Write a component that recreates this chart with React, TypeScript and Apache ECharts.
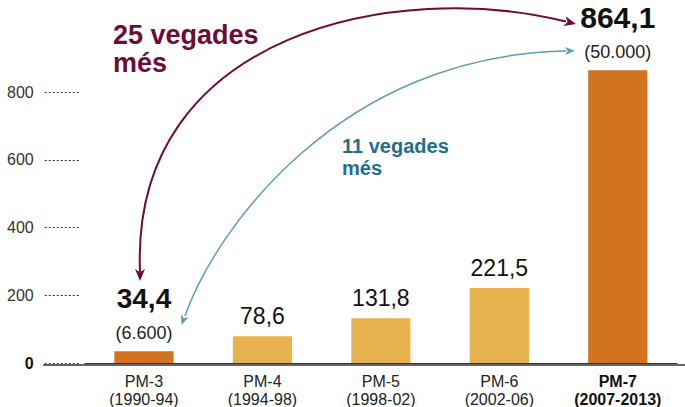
import React, { useEffect, useRef } from 'react';
import * as echarts from 'echarts';

const categories = ['PM-3', 'PM-4', 'PM-5', 'PM-6', 'PM-7'];
const periods = ['(1990-94)', '(1994-98)', '(1998-02)', '(2002-06)', '(2007-2013)'];
const values = [34.4, 78.6, 131.8, 221.5, 864.1];
const valueLabels = ['34,4', '78,6', '131,8', '221,5', '864,1'];
const subLabels = ['(6.600)', '', '', '', '(50.000)'];
const highlighted = [true, false, false, false, true];
const yTickValues = [0, 200, 400, 600, 800];
const annotationMain = ['25 vegades', 'més'];
const annotationSecond = ['11 vegades', 'més'];

const FONT = '"Liberation Sans", Arial, Helvetica, sans-serif';
const DARK = '#D2731F';
const LIGHT = '#E8B24F';
const MAROON = '#6B0D37';
const TEAL_TEXT = '#1F6E8C';
const TEAL_LINE = '#5C9CB6';

const W = 685;
const H = 407;
const GRID = { left: 84.75, right: 8, top: 92, bottom: 42 };

function arrowHead(tipX: number, tipY: number, dx: number, dy: number, len: number, half: number, color: string) {
  const m = Math.hypot(dx, dy);
  const ux = dx / m;
  const uy = dy / m;
  const nx = -uy;
  const ny = ux;
  const bx = tipX - ux * len;
  const by = tipY - uy * len;
  const notchX = tipX - ux * len * 0.72;
  const notchY = tipY - uy * len * 0.72;
  return {
    type: 'polygon',
    silent: true,
    shape: {
      points: [
        [tipX, tipY],
        [bx + nx * half, by + ny * half],
        [notchX, notchY],
        [bx - nx * half, by - ny * half],
      ],
    },
    style: { fill: color, stroke: 'none' },
  };
}

export default function App() {
  const ref = useRef<HTMLDivElement>(null);

  useEffect(() => {
    if (!ref.current) return;
    const chart = echarts.init(ref.current, undefined, { renderer: 'svg' });

    const data = values.map((v, i) => {
      const item: any = {
        value: v,
        itemStyle: { color: highlighted[i] ? DARK : LIGHT },
      };
      if (highlighted[i]) {
        item.label = {
          show: true,
          position: 'top',
          distance: 5,
          formatter: `{b|${valueLabels[i]}}\n{s|${subLabels[i]}}`,
          rich: {
            b: { fontSize: i === 4 ? 30 : 28, fontWeight: 'bold', lineHeight: 44, color: '#111', fontFamily: FONT },
            s: { fontSize: 18, lineHeight: 26, color: '#222', fontFamily: FONT },
          },
        };
      } else {
        item.label = {
          show: true,
          position: 'top',
          distance: 7,
          formatter: `{n|${valueLabels[i]}}`,
          rich: {
            n: { fontSize: 23, lineHeight: 26, color: '#111', fontFamily: FONT },
          },
        };
      }
      return item;
    });

    const baseY = H - GRID.bottom;

    const mainCurve = { x1: 140, y1: 272, cpx1: 130, cpy1: 30, cpx2: 400, cpy2: -20, x2: 566, y2: 21.5 };
    const tealCurve = { x1: 185, y1: 316, cpx1: 215, cpy1: 230, cpx2: 340, cpy2: 55, x2: 566, y2: 51 };

    const option: any = {
      animation: false,
      textStyle: { fontFamily: FONT },
      grid: { left: GRID.left, right: GRID.right, top: GRID.top, bottom: GRID.bottom },
      xAxis: {
        type: 'category',
        data: categories,
        axisTick: { show: false },
        axisLine: { show: true, lineStyle: { color: '#333', width: 1 } },
        axisLabel: {
          margin: 9,
          interval: 0,
          formatter: (value: string, idx: number) => {
            const key = idx === 4 ? 'bb' : 'a';
            return `{${key}|${value}}\n{${key}|${periods[idx]}}`;
          },
          rich: {
            a: { fontSize: 16, lineHeight: 18, color: '#222', fontFamily: FONT },
            bb: { fontSize: 16, lineHeight: 18, color: '#111', fontWeight: 'bold', fontFamily: FONT },
          },
        },
      },
      yAxis: {
        type: 'value',
        min: yTickValues[0],
        max: yTickValues[yTickValues.length - 1],
        interval: yTickValues[1] - yTickValues[0],
        offset: 6,
        axisLine: { show: false },
        splitLine: { show: false },
        axisTick: { show: true, length: 36, lineStyle: { color: '#333', width: 1, type: [2, 2] } },
        axisLabel: {
          margin: 45,
          fontSize: 16,
          color: '#333',
          fontFamily: FONT,
          formatter: (v: number) => (v === 0 ? '{z|0}' : String(v)),
          rich: {
            z: { fontSize: 16, fontWeight: 'bold', color: '#111', fontFamily: FONT },
          },
        },
      },
      series: [
        {
          type: 'bar',
          data,
          barWidth: '50%',
          clip: false,
        },
      ],
      graphic: [
        {
          type: 'line',
          silent: true,
          z: 10,
          shape: { x1: 43, y1: baseY, x2: W, y2: baseY },
          style: { stroke: '#333', lineWidth: 1.3 },
        },
        {
          type: 'bezierCurve',
          silent: true,
          shape: mainCurve,
          style: { stroke: MAROON, lineWidth: 2, fill: 'none' },
        },
        arrowHead(140, 281, 0, 1, 12, 5, MAROON),
        arrowHead(576, 24, 0.97, 0.24, 12, 5, MAROON),
        {
          type: 'bezierCurve',
          silent: true,
          shape: tealCurve,
          style: { stroke: TEAL_LINE, lineWidth: 1.5, fill: 'none' },
        },
        arrowHead(181.5, 325, -0.33, 0.94, 10, 4, TEAL_LINE),
        arrowHead(575, 50.8, 1, -0.02, 10, 4, TEAL_LINE),
        {
          type: 'text',
          silent: true,
          x: 113,
          y: 21,
          style: {
            text: annotationMain.join('\n'),
            fill: MAROON,
            font: `bold 27px ${FONT}`,
            lineHeight: 28,
            verticalAlign: 'top',
            align: 'left',
          },
        },
        {
          type: 'text',
          silent: true,
          x: 342,
          y: 135,
          style: {
            text: annotationSecond.join('\n'),
            fill: TEAL_TEXT,
            font: `bold 20px ${FONT}`,
            lineHeight: 22,
            verticalAlign: 'top',
            align: 'left',
          },
        },
      ],
    };

    chart.setOption(option);
    return () => chart.dispose();
  }, []);

  return (
    <div
      ref={ref}
      style={{ position: 'absolute', left: 0, top: 0, width: W, height: H, background: '#fff' }}
    />
  );
}
